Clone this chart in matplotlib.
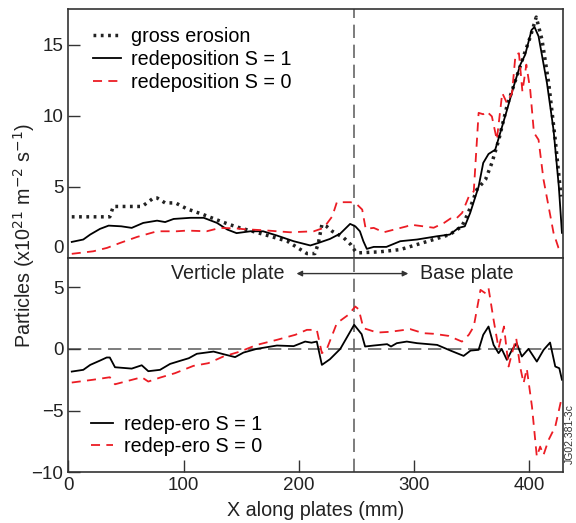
import numpy as np
import matplotlib
matplotlib.use("Agg")
import matplotlib.pyplot as plt
from matplotlib.transforms import ScaledTranslation

plt.rcParams['font.family'] = ['Liberation Sans', 'DejaVu Sans']

# --- top panel: fluxes (x10^21 m^-2 s^-1) ---
ero_x = [3, 36, 39, 64, 74, 77, 84, 93, 103, 117, 132, 140, 149, 170, 190, 207, 214,
         217, 220, 224, 229, 239, 245, 249, 252, 270, 288, 317, 331, 341.5, 347, 354.5,
         362, 367.5, 373.5, 380.5, 388, 395, 401, 406, 411, 416.8, 422.5, 427.5]
ero_y = [2.87, 2.87, 3.6, 3.6, 4.2, 4.2, 3.85, 3.85, 3.43, 3.03, 2.56, 2.32, 2.09, 1.62,
         1.15, 0.28, 0.28, 1.03, 2.32, 2.2, 1.85, 1.39, 0.92, 0.44, 0.33, 0.4, 0.56, 1.27,
         1.62, 2.2, 3.15, 4.79, 5.5, 6.67, 8.3, 10.65, 12.5, 14.2, 15.6, 16.95, 15.35,
         12.3, 8.3, 4.3]

red1_x = [3, 13, 19, 27.5, 35, 46, 55, 65, 77, 84, 91.4, 106, 117.5, 129, 138, 146, 158,
          169, 181, 195.5, 210, 217, 227, 236, 244.5, 249, 253, 256, 259, 265, 276, 288,
          302.6, 320, 331, 338.6, 344, 348.7, 356, 360, 364.6, 370.4, 374.8, 380.6, 386.4,
          392.2, 396.4, 402, 404.5, 408, 415.3, 421, 425.6, 428.3]
red1_y = [1.1, 1.27, 1.62, 2.02, 2.25, 2.2, 2.09, 2.44, 2.6, 2.5, 2.72, 2.8, 2.8, 2.44,
          1.97, 1.72, 1.85, 1.85, 1.55, 1.15, 0.85, 1.03, 1.31, 1.69, 2.37, 2.2, 1.85, 1.15,
          0.61, 0.75, 0.75, 1.15, 1.27, 1.5, 1.62, 2.09, 2.2, 3.15, 5.0, 6.67, 7.3, 7.6, 8.8,
          10.4, 12.06, 13.6, 14.3, 16.05, 16.25, 15.6, 12.3, 9.0, 5.0, 1.74]

red0_x = [3, 21.7, 33.6, 45, 59.6, 77, 94, 103, 120, 131.7, 146, 152, 170, 192.5, 213,
          221.6, 229, 233, 245, 250.6, 255, 258, 265, 273.7, 285, 293.7, 296.6, 308, 317,
          326, 331.6, 336, 341.7, 347.5, 351.8, 356, 360, 363, 367.5, 371.8, 376.5, 380.5,
          385, 388, 391, 394, 397.4, 400.8, 404, 408, 412.3, 416.7, 421, 425.3, 428.3]
red0_y = [0.26, 0.44, 0.68, 1.03, 1.45, 1.85, 1.85, 1.9, 1.85, 2.09, 2.05, 2.0, 1.92, 1.78,
          1.85, 2.09, 2.9, 3.9, 3.9, 3.73, 3.38, 2.02, 2.09, 1.78, 2.02, 2.2, 2.32, 2.2, 2.1,
          2.44, 2.75, 2.7, 3.15, 4.3, 4.67, 10.2, 10.1, 10.3, 9.95, 8.3, 11.6, 10.9, 11.6,
          14.3, 14.4, 11.7, 13.6, 11.8, 8.8, 8.3, 5.5, 3.6, 1.74, 0.68, 0.33]

# --- bottom panel: redeposition - erosion ---
d1_x = [3, 13, 19, 27.5, 33.3, 36, 40.5, 55, 63.7, 69.4, 79.6, 88.3, 97, 104.5, 111.5,
        126, 134.5, 144.7, 152, 163.5, 181, 195.5, 205.5, 211, 215.6, 220, 227, 236, 248,
        254.5, 257.5, 265, 276.6, 280, 285, 293.7, 302.6, 320, 331.6, 343, 349, 356, 360,
        364.6, 369, 373.3, 376, 380.5, 385, 389, 393.5, 399.3, 406.5, 412.4, 418, 422.5,
        426, 428.3]
d1_y = [-1.84, -1.7, -1.3, -0.95, -0.7, -0.7, -1.49, -1.6, -1.33, -1.81, -1.7, -1.22,
        -0.97, -0.76, -0.4, -0.22, -0.43, -0.67, -0.3, 0.0, 0.27, 0.22, 0.59, 0.5, 0.59,
        -1.3, -0.84, 0.0, 1.95, 1.19, 0.19, 0.27, 0.38, 0.19, 0.46, 0.59, 0.46, 0.32, -0.14,
        -0.57, -0.14, -0.08, 1.14, 1.81, 0.32, -0.35, 0.0, -0.89, -0.08, 0.46, -0.62, 0.0,
        -1.03, -0.08, 0.51, -1.43, -1.57, -2.5]

d0_x = [3, 21.7, 36, 40.5, 63.7, 69.4, 79.6, 92.6, 108.5, 121.5, 134.5, 149, 163.5, 181,
        197, 207, 215.6, 220, 224, 233, 243, 249, 252, 256, 268, 279, 288, 296.6, 308, 317,
        330, 341.5, 347.5, 351.8, 357.6, 362, 364.6, 369, 373.3, 378, 382, 385, 388.6, 392,
        395, 397.8, 402.3, 406.5, 409.4, 412.3, 416.7, 422.5, 428.3]
d0_y = [-2.73, -2.5, -2.3, -2.87, -2.3, -2.65, -2.33, -1.97, -1.38, -1.16, -0.62, -0.22,
        0.32, 0.73, 1.14, 1.54, 1.54, -0.35, -0.08, 2.08, 2.76, 3.43, 3.2, 1.68, 1.32, 1.38,
        1.49, 1.6, 1.27, 1.22, 1.05, 0.59, 1.14, 1.81, 4.78, 4.5, 4.92, 2.35, 0.05, 1.81,
        -1.43, -0.35, 0.87, -1.43, -2.78, -1.6, -4.68, -8.73, -7.92, -8.6, -7.38, -6.3,
        -3.87]

plate_edge = 248
red = '#ec1c24'
axcol = '#333333'
fs = 14.2

fig = plt.figure(figsize=(5.76, 5.23), dpi=100)
ax1 = fig.add_axes([0.1186, 0.5076, 0.8584, 0.4746])
ax2 = fig.add_axes([0.1186, 0.0970, 0.8584, 0.4106])

for ax in (ax1, ax2):
    for s in ax.spines.values():
        s.set_color(axcol)
        s.set_linewidth(1.2)
    ax.tick_params(direction='in', length=8.5, width=1, color=axcol,
                   labelsize=13.5, labelcolor='#222222', top=False, right=False)
    ax.set_xlim(0, 429)
    ax.axvline(plate_edge, color='#666666', lw=1.2, ls=(0, (8, 4)), zorder=1)

# top panel
ax1.plot(ero_x, ero_y, color='#222222', lw=2.5, ls=(0, (0.8, 1.3)),
         label='gross erosion')
ax1.plot(red1_x, red1_y, color='black', lw=1.3, label='redeposition S = 1')
ax1.plot(red0_x, red0_y, color=red, lw=1.3, ls=(0, (5, 3.5)),
         label='redeposition S = 0')
ax1.set_ylim(0, 17.5)
ax1.set_yticks([0, 5, 10, 15])
ax1.tick_params(axis='x', bottom=False, labelbottom=False)
t0 = ax1.yaxis.get_major_ticks()[0].label1
t0.set_transform(t0.get_transform() + ScaledTranslation(0, 0.11, fig.dpi_scale_trans))
ax1.legend(loc='upper left', frameon=False, fontsize=fs, handlelength=1.4,
           handletextpad=0.55, labelspacing=0.2, borderaxespad=0.0,
           bbox_to_anchor=(0.034, 0.96))

# bottom panel
ax2.axhline(0, color='#666666', lw=1.2, ls=(0, (8, 4)), zorder=1)
ax2.plot(d1_x, d1_y, color='black', lw=1.3, label='redep-ero S = 1')
ax2.plot(d0_x, d0_y, color=red, lw=1.3, ls=(0, (5, 3.5)), label='redep-ero S = 0')
ax2.set_ylim(-10, 7.4)
ax2.set_yticks([-10, -5, 0, 5])
ax2.set_yticklabels(['\u221210', '\u22125', '0', '5'])
ax2.set_xticks([0, 100, 200, 300, 400])
ax2.legend(loc='lower left', frameon=False, fontsize=fs, handlelength=1.1,
           handletextpad=0.55, labelspacing=0.15, borderaxespad=0.0,
           bbox_to_anchor=(0.03, 0.04))

ax2.text(188, 6.1, 'Verticle plate', ha='right', va='center', fontsize=fs, color='#222222')
ax2.text(305, 6.1, 'Base plate', ha='left', va='center', fontsize=fs, color='#222222')
ax2.annotate('', xy=(198, 6.1), xytext=(295, 6.1),
             arrowprops=dict(arrowstyle='<|-|>', color='#333333', lw=1,
                             mutation_scale=8, shrinkA=0, shrinkB=0))

ax2.set_xlabel('X along plates (mm)', fontsize=fs, color='#222222', labelpad=5)
fig.text(0.042, 0.55, 'Particles (x10$^{21}$ m$^{-2}$ s$^{-1}$)', rotation=90,
         ha='center', va='center', fontsize=fs, color='#222222')
fig.text(0.989, 0.17, 'JG02.381-3c', rotation=90, ha='center', va='center',
         fontsize=7.5, color='#333333')

fig.savefig('out.png', dpi=100)
